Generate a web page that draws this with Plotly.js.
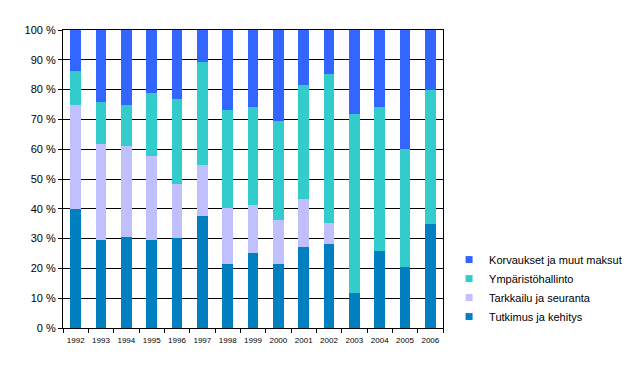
<!DOCTYPE html>
<html>
<head>
<meta charset="utf-8">
<script src="https://cdn.plot.ly/plotly-3.0.1.min.js"></script>
<style>html,body{margin:0;padding:0;background:#fff;}#chart{width:643px;height:369px;}</style>
</head>
<body>
<div id="chart"></div>
<script>
const years = ['1992','1993','1994','1995','1996','1997','1998','1999','2000','2001','2002','2003','2004','2005','2006'];
const tutkimus   = [40.0, 29.5, 30.5, 29.5, 30.1, 37.6, 21.5, 25.2, 21.5, 27.2, 28.2, 11.8, 25.9, 20.5, 34.9];
const tarkkailu  = [34.7, 32.1, 30.5, 28.1, 18.2, 17.0, 18.7, 16.0, 14.7, 16.1,  7.0,  0.0,  0.0,  0.0,  0.0];
const ymparisto  = [11.7, 14.1, 14.0, 21.1, 28.4, 34.8, 32.8, 32.8, 33.1, 38.4, 49.9, 59.9, 48.1, 39.5, 44.8];
const korvaukset = [13.6, 24.3, 25.0, 21.3, 23.3, 10.6, 27.0, 26.0, 30.7, 18.3, 14.9, 28.3, 26.0, 40.0, 20.3];

const seriesNames = ['Tutkimus ja kehitys','Tarkkailu ja seuranta','Ympäristöhallinto','Korvaukset ja muut maksut'];
const seriesVals = [tutkimus, tarkkailu, ymparisto, korvaukset];
const colors = ['#0080C0','#C0C0FF','#33CCCC','#3366FF'];

const traces = [];
seriesVals.forEach((v,i)=>{
  traces.push({type:'bar', x: years, y: v, name: seriesNames[i], marker:{color:colors[i], line:{width:0}},
    showlegend:false, legendgroup:'g'+i, hoverinfo:'x+y+name'});
});
// legend entries (small square markers) in reversed order
for (let i = seriesVals.length-1; i >= 0; i--) {
  traces.push({type:'scatter', mode:'markers', x:[null], y:[null], name: seriesNames[i], legendgroup:'g'+i,
    marker:{symbol:'square', size:7, color:colors[i]}, hoverinfo:'skip'});
}

const font = {family:'"Liberation Sans", Arial, sans-serif', color:'#000'};
const layout = {
  width:643, height:369,
  margin:{l:63, r:200, t:29.5, b:41, pad:0},
  paper_bgcolor:'#fff', plot_bgcolor:'#fff',
  barmode:'stack', barnorm:'percent', bargap:0.58,
  font: Object.assign({size:11}, font),
  xaxis:{type:'category', showline:true, linecolor:'#000', linewidth:1, mirror:true,
    ticks:'outside', tickson:'boundaries', ticklen:4, tickcolor:'#000', tickangle:0, ticklabelstandoff:4,
    tickfont: Object.assign({size:8}, font), showgrid:false, zeroline:false, fixedrange:true},
  yaxis:{range:[0,100], dtick:10, ticksuffix:' %', showline:true, linecolor:'#000', linewidth:1, mirror:true,
    ticks:'outside', ticklen:4, tickcolor:'#000', showgrid:true, gridcolor:'#000', gridwidth:1,
    tickfont: Object.assign({size:11}, font), zeroline:false, fixedrange:true},
  showlegend:true,
  legend:{x:1.016, xanchor:'left', y:0.134, yanchor:'middle', font:Object.assign({size:11}, font),
    bgcolor:'rgba(0,0,0,0)', borderwidth:0, itemwidth:30, traceorder:'normal'}
};
Plotly.newPlot('chart', traces, layout, {displayModeBar:false, staticPlot:true});
</script>
</body>
</html>
